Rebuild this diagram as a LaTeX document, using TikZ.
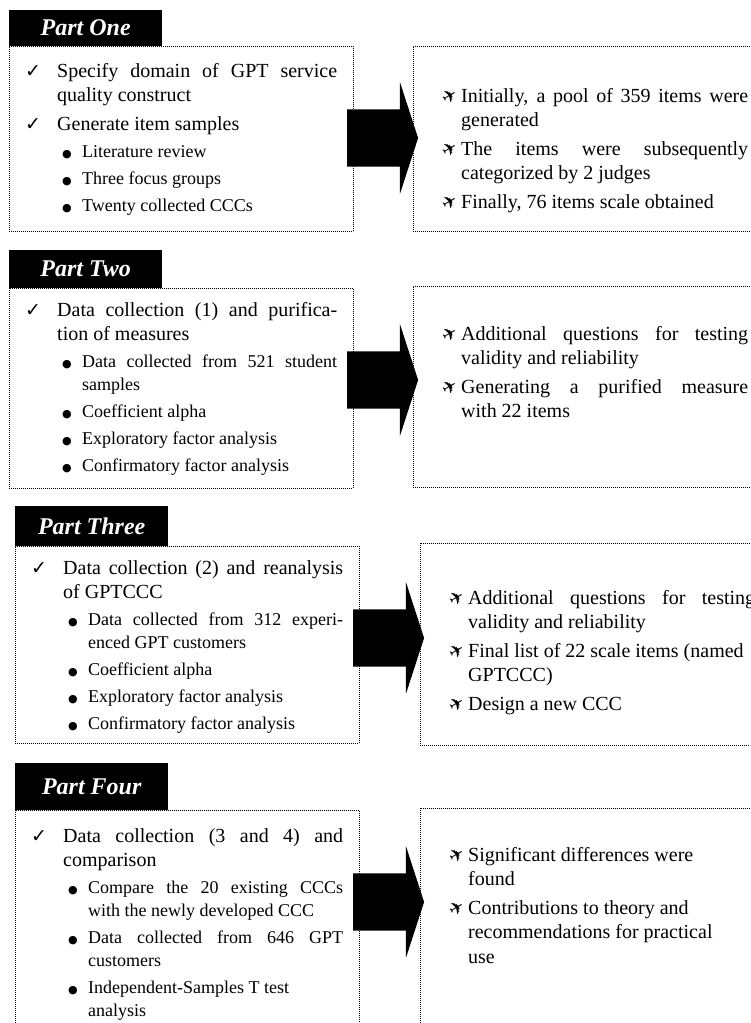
\documentclass[tikz,border=0pt]{standalone}
\usepackage{fontspec}
\setmainfont{Liberation Serif}
\newfontfamily\symfont{DejaVu Sans}
\usetikzlibrary{shapes.arrows,positioning}

% list lines
\newcommand{\chk}[1]{\hangindent=32pt\hangafter=1\noindent
  \makebox[32pt][l]{\symfont\fontsize{19}{19}\selectfont ✓}#1\par}
\newcommand{\bul}[1]{{\fontsize{18}{23}\selectfont
  \hangindent=57pt\hangafter=1\noindent\hspace*{37pt}%
  \makebox[20pt][l]{\symfont\fontsize{11}{11}\selectfont ●}#1\par}}
\newcommand{\pln}[1]{\hangindent=21pt\hangafter=1\noindent
  \makebox[21pt][l]{\symfont\fontsize{18}{18}\selectfont
    \raisebox{0pt}[0pt][0pt]{\rotatebox[origin=c]{30}{✈}}}#1\par}

\begin{document}
\begin{tikzpicture}[x=1pt, y=-1pt,
  tab/.style={fill=black, text=white, minimum width=153pt, inner sep=0,
              font=\fontsize{24}{28}\selectfont\bfseries\itshape},
  lbox/.style={draw, line width=0.9pt, dash pattern=on 1pt off 1pt,
               minimum width=344pt, inner sep=0, anchor=north west},
  rbox/.style={lbox, minimum width=360pt},
  ltext/.style={text width=312pt, align=justify, inner sep=0,
                font=\fontsize{20}{24.5}\selectfont,
                execute at begin node={\setlength{\parskip}{4pt}}},
  rtext/.style={ltext, text width=308pt},
  bigarrow/.style={single arrow, fill=black, inner xsep=0, inner ysep=28.5pt,
                   single arrow head extend=27.5pt, single arrow tip angle=144,
                   minimum height=71pt, anchor=tail}
]
  \useasboundingbox (0,0) rectangle (750,1023);
  \clip (0,0) rectangle (750,1023);

  % Part One
  \node[lbox, minimum height=185pt] (box1) at (9,46) {};
  \node[tab, minimum height=36pt, above right=0pt and 0pt of box1.north west] (tab1) {Part One};
  \node[ltext, below right=17pt and 16pt of box1.north west] (txt1) {%
    \chk{Specify domain of GPT service\linebreak quality construct}
    \chk{Generate item samples}
    \bul{Literature review}
    \bul{Three focus groups}
    \bul{Twenty collected CCCs}};
  \node[rbox, minimum height=185pt] (res1) at (413,46) {};
  \node[rtext, below right=42pt and 27pt of res1.north west] (out1) {%
    \pln{Initially, a pool of 359 items were\linebreak generated}
    \pln{The items were subsequently\linebreak categorized by 2 judges}
    \pln{Finally, 76 items scale obtained}};
  \node[bigarrow] (arr1) at ([xshift=-7pt, yshift=-92pt]box1.north east) {};

  % Part Two
  \node[lbox, minimum height=200pt] (box2) at (9,288) {};
  \node[tab, minimum height=38pt, above right=0pt and 0pt of box2.north west] (tab2) {Part Two};
  \node[ltext, below right=14pt and 16pt of box2.north west] (txt2) {%
    \chk{Data collection (1) and purifica-\linebreak tion of measures}
    \bul{Data collected from 521 student\linebreak samples}
    \bul{Coefficient alpha}
    \bul{Exploratory factor analysis}
    \bul{Confirmatory factor analysis}};
  \node[rbox, minimum height=201pt] (res2) at (413,286) {};
  \node[rtext, below right=40pt and 27pt of res2.north west] (out2) {%
    \pln{Additional questions for testing\linebreak validity and reliability}
    \pln{Generating a purified measure\linebreak with 22 items}};
  \node[bigarrow] (arr2) at ([xshift=-7pt, yshift=-92pt]box2.north east) {};

  % Part Three
  \node[lbox, minimum height=197pt] (box3) at (15,546) {};
  \node[tab, minimum height=40pt, above right=0pt and 0pt of box3.north west] (tab3) {Part Three};
  \node[ltext, below right=14pt and 16pt of box3.north west] (txt3) {%
    \chk{Data collection (2) and reanalysis\linebreak of GPTCCC}
    \bul{Data collected from 312 experi-\linebreak enced GPT customers}
    \bul{Coefficient alpha}
    \bul{Exploratory factor analysis}
    \bul{Confirmatory factor analysis}};
  \node[rbox, minimum height=202pt] (res3) at (420,543) {};
  \node[rtext, below right=47pt and 27pt of res3.north west] (out3) {%
    \pln{Additional questions for testing\linebreak validity and reliability}
    \pln{Final list of 22 scale items (named\newline GPTCCC)}
    \pln{Design a new CCC}};
  \node[bigarrow] (arr3) at ([xshift=-7pt, yshift=-92pt]box3.north east) {};

  % Part Four
  \node[lbox, minimum height=240pt] (box4) at (15,810) {};
  \node[tab, minimum height=47pt, above right=0pt and 0pt of box4.north west] (tab4) {Part Four};
  \node[ltext, below right=18pt and 16pt of box4.north west] (txt4) {%
    \chk{Data collection (3 and 4) and\linebreak comparison}
    \bul{Compare the 20 existing CCCs\linebreak with the newly developed CCC}
    \bul{Data collected from 646 GPT\linebreak customers}
    \bul{Independent-Samples T test\newline analysis}};
  \node[rbox, minimum height=240pt] (res4) at (420,808) {};
  \node[rtext, below right=39pt and 27pt of res4.north west] (out4) {%
    \pln{Significant differences were\newline found}
    \pln{Contributions to theory and\newline recommendations for practical\newline use}};
  \node[bigarrow] (arr4) at ([xshift=-7pt, yshift=-92pt]box4.north east) {};
\end{tikzpicture}
\end{document}
